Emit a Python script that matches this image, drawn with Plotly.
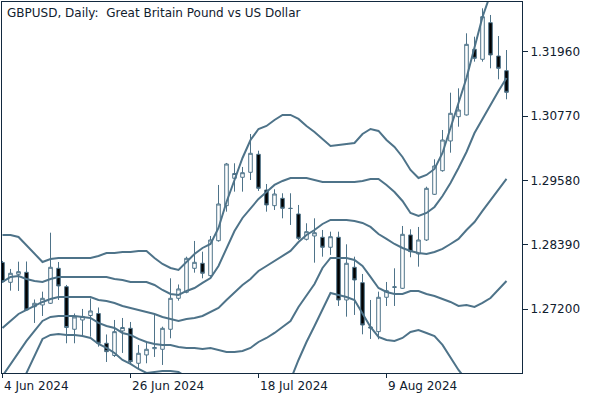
import plotly.graph_objects as go
import pandas as pd

# ---- data ----
dates = pd.bdate_range("2024-06-04", periods=64)

open_ = [1.28061, 1.27694, 1.27842, 1.27879, 1.27243, 1.27275, 1.27306, 1.27953, 1.27613, 1.26825,
         1.26997, 1.27080, 1.27117, 1.26566, 1.26340, 1.26794, 1.26843, 1.26196, 1.26350, 1.26466,
         1.26455, 1.26825, 1.27398, 1.27509, 1.27953, 1.28046, 1.27817, 1.28464, 1.29112, 1.29618,
         1.29637, 1.29729, 1.30062, 1.29402, 1.29112, 1.29248, 1.29063, 1.28958, 1.28490, 1.28551,
         1.28527, 1.28342, 1.28527, 1.27367, 1.27972, 1.27687, 1.26868, 1.26781, 1.27417, 1.27598,
         1.27583, 1.28570, 1.28218, 1.28477, 1.29322, 1.29759, 1.30309, 1.30758, 1.30790, 1.32005,
         1.31820, 1.32497, 1.31881, 1.31609]

high = [1.28089, 1.27941, 1.28076, 1.28079, 1.27376, 1.27521, 1.28612, 1.28070, 1.27645, 1.27117,
        1.27201, 1.27395, 1.27228, 1.26729, 1.26997, 1.27034, 1.26960, 1.26535, 1.26596, 1.27090,
        1.26873, 1.27768, 1.27654, 1.28168, 1.28459, 1.28261, 1.28551, 1.29495, 1.29902, 1.29896,
        1.29828, 1.30438, 1.30129, 1.29513, 1.29415, 1.29341, 1.29341, 1.29125, 1.28786, 1.28878,
        1.28662, 1.28631, 1.28631, 1.28397, 1.28168, 1.27848, 1.27367, 1.27521, 1.27700, 1.27953,
        1.28736, 1.28675, 1.28718, 1.29463, 1.29970, 1.30512, 1.31202, 1.31283, 1.32301, 1.32238,
        1.32763, 1.32640, 1.32251, 1.31992]

low = [1.27682, 1.27539, 1.27534, 1.27164, 1.26942, 1.27071, 1.27293, 1.27367, 1.26566, 1.26566,
       1.26683, 1.26688, 1.26503, 1.26220, 1.26313, 1.26387, 1.26165, 1.26103, 1.26196, 1.26313,
       1.26165, 1.26658, 1.27354, 1.27491, 1.27872, 1.27768, 1.27798, 1.28446, 1.29001, 1.29371,
       1.29371, 1.29587, 1.29384, 1.29001, 1.29032, 1.28878, 1.28755, 1.28477, 1.28468, 1.28057,
       1.28168, 1.28200, 1.27256, 1.27058, 1.27090, 1.26732, 1.26646, 1.26640, 1.27256, 1.27256,
       1.27571, 1.28157, 1.27983, 1.28459, 1.29310, 1.29741, 1.30092, 1.30573, 1.30780, 1.31776,
       1.31776, 1.31653, 1.31450, 1.31080]

close = [1.27706, 1.27861, 1.27891, 1.27182, 1.27306, 1.27398, 1.27972, 1.27626, 1.26858, 1.27053,
         1.27062, 1.27164, 1.26566, 1.26411, 1.26781, 1.26858, 1.26226, 1.26381, 1.26455, 1.26488,
         1.26843, 1.27398, 1.27571, 1.28138, 1.28064, 1.27861, 1.28477, 1.29143, 1.29883, 1.29707,
         1.29722, 1.30081, 1.29433, 1.29125, 1.29328, 1.29063, 1.29060, 1.28508, 1.28631, 1.28612,
         1.28342, 1.28538, 1.27367, 1.28046, 1.27737, 1.26904, 1.26849, 1.27417, 1.27539, 1.27611,
         1.28582, 1.28261, 1.28477, 1.29433, 1.29846, 1.30327, 1.30821, 1.30882, 1.32097, 1.31838,
         1.32608, 1.31900, 1.31653, 1.31209]

# Bollinger band lines (20 period, +/-1 and +/-2 deviations), read per bar
bb_upper2 = [1.28570, 1.28570, 1.28533, 1.28385, 1.28218, 1.28070, 1.28126, 1.28144, 1.28144, 1.28144,
             1.28144, 1.28144, 1.28181, 1.28237, 1.28237, 1.28255, 1.28255, 1.28274, 1.28274, 1.28144,
             1.28033, 1.27959, 1.27922, 1.28070, 1.28218, 1.28329, 1.28403, 1.28699, 1.29180, 1.29587,
             1.29994, 1.30327, 1.30530, 1.30586, 1.30697, 1.30790, 1.30790, 1.30716, 1.30586, 1.30475,
             1.30346, 1.30216, 1.30235, 1.30253, 1.30272, 1.30438, 1.30530, 1.30494, 1.30327, 1.30198,
             1.30013, 1.29772, 1.29624, 1.29680, 1.29791, 1.30087, 1.30530, 1.31012, 1.31474, 1.32048,
             1.32602, 1.33028, 1.33176, 1.33343]

bb_upper1 = [1.27700, 1.27793, 1.27811, 1.27756, 1.27719, 1.27700, 1.27756, 1.27793, 1.27793, 1.27793,
             1.27793, 1.27793, 1.27793, 1.27793, 1.27756, 1.27737, 1.27700, 1.27700, 1.27700, 1.27645,
             1.27552, 1.27478, 1.27460, 1.27534, 1.27589, 1.27682, 1.27774, 1.27996, 1.28329, 1.28644,
             1.28884, 1.29069, 1.29236, 1.29365, 1.29495, 1.29569, 1.29624, 1.29624, 1.29624, 1.29587,
             1.29550, 1.29550, 1.29550, 1.29550, 1.29550, 1.29569, 1.29606, 1.29606, 1.29495, 1.29365,
             1.29199, 1.28977, 1.28921, 1.28977, 1.29088, 1.29291, 1.29532, 1.29809, 1.30105, 1.30456,
             1.30716, 1.30993, 1.31234, 1.31474]

bb_middle = [1.26849, 1.26979, 1.27108, 1.27182, 1.27256, 1.27330, 1.27386, 1.27423, 1.27423, 1.27423,
             1.27423, 1.27423, 1.27367, 1.27349, 1.27312, 1.27256, 1.27219, 1.27182, 1.27145, 1.27108,
             1.27053, 1.27016, 1.26979, 1.27016, 1.27034, 1.27071, 1.27145, 1.27219, 1.27367, 1.27515,
             1.27645, 1.27756, 1.27904, 1.27996, 1.28089, 1.28181, 1.28274, 1.28440, 1.28570, 1.28662,
             1.28773, 1.28847, 1.28847, 1.28847, 1.28829, 1.28792, 1.28718, 1.28588, 1.28496, 1.28403,
             1.28329, 1.28274, 1.28237, 1.28218, 1.28255, 1.28312, 1.28403, 1.28496, 1.28662, 1.28810,
             1.29014, 1.29217, 1.29420, 1.29606]

bb_lower1 = [1.25961, 1.26183, 1.26405, 1.26609, 1.26794, 1.26979, 1.27053, 1.27071, 1.27071, 1.27071,
             1.27053, 1.27034, 1.26942, 1.26886, 1.26849, 1.26757, 1.26720, 1.26646, 1.26590, 1.26553,
             1.26535, 1.26535, 1.26498, 1.26479, 1.26479, 1.26461, 1.26479, 1.26442, 1.26405, 1.26405,
             1.26424, 1.26479, 1.26590, 1.26664, 1.26757, 1.26868, 1.26979, 1.27238, 1.27460, 1.27663,
             1.27959, 1.28144, 1.28144, 1.28144, 1.28107, 1.27996, 1.27793, 1.27589, 1.27515, 1.27478,
             1.27478, 1.27534, 1.27534, 1.27478, 1.27441, 1.27386, 1.27330, 1.27256, 1.27275, 1.27238,
             1.27312, 1.27404, 1.27571, 1.27719]

bb_lower2 = [1.25073, 1.25388, 1.25702, 1.26035, 1.26350, 1.26646, 1.26720, 1.26738, 1.26720, 1.26720,
             1.26701, 1.26664, 1.26553, 1.26479, 1.26387, 1.26257, 1.26183, 1.26090, 1.26017, 1.26035,
             1.26054, 1.26054, 1.26035, 1.25942, 1.25850, 1.25813, 1.25850, 1.25702, 1.25554, 1.25406,
             1.25277, 1.25221, 1.25295, 1.25425, 1.25517, 1.25647, 1.25887, 1.26257, 1.26590, 1.26886,
             1.27201, 1.27497, 1.27460, 1.27423, 1.27367, 1.27127, 1.26868, 1.26683, 1.26627, 1.26609,
             1.26664, 1.26775, 1.26812, 1.26757, 1.26701, 1.26535, 1.26313, 1.26072, 1.25887, 1.25610,
             1.25425, 1.25406, 1.25665, 1.25869]

y_tick_values = [1.27200, 1.28390, 1.29580, 1.30770, 1.31960]
x_tick_bars = [0, 16, 32, 48]
title_text = "GBPUSD, Daily:\u00a0\u00a0Great Britain Pound vs US Dollar"

# ---- figure ----
bars = list(range(len(close)))
x_tick_labels = [f"{dates[i].day} {dates[i]:%b %Y}" for i in x_tick_bars]

LINE = "#4e7389"
FRAME = "#12293f"
TEXT = "#10202e"
FONT = dict(family="DejaVu Sans", size=12, color=TEXT)

fig = go.Figure()
fig.add_trace(go.Candlestick(
    x=bars, open=open_, high=high, low=low, close=close,
    increasing=dict(fillcolor="white", line=dict(color=LINE, width=1)),
    decreasing=dict(fillcolor="black", line=dict(color=LINE, width=1)),
    whiskerwidth=0, hoverinfo="skip", showlegend=False,
))
for band in (bb_upper2, bb_upper1, bb_middle, bb_lower1, bb_lower2):
    fig.add_trace(go.Scatter(x=bars, y=band, mode="lines",
                             line=dict(color=LINE, width=2),
                             hoverinfo="skip", showlegend=False))

annotations = [dict(
    text=title_text, xref="paper", yref="paper", x=0, y=1,
    xanchor="left", yanchor="top", xshift=3, yshift=-2,
    showarrow=False, font=FONT,
)]
for b, lab in zip(x_tick_bars, x_tick_labels):
    annotations.append(dict(
        text=lab, xref="x", yref="paper", x=b, y=0,
        xanchor="left", yanchor="top", xshift=-1, yshift=-4,
        showarrow=False, font=FONT,
    ))

fig.update_layout(
    width=600, height=400,
    margin=dict(l=2, r=78, t=2, b=27, pad=0),
    paper_bgcolor="white", plot_bgcolor="white",
    font=FONT,
    boxgap=0.36,
    showlegend=False,
    xaxis=dict(
        range=[-0.0625, 64.9375], rangeslider=dict(visible=False),
        showgrid=False, zeroline=False,
        showline=True, mirror=True, linecolor=FRAME, linewidth=1,
        ticks="outside", ticklen=4, tickcolor=FRAME, tickwidth=1,
        tickvals=x_tick_bars, showticklabels=False,
    ),
    yaxis=dict(
        side="right", range=[1.26016, 1.32880],
        showgrid=False, zeroline=False,
        showline=True, mirror=True, linecolor=FRAME, linewidth=1,
        ticks="outside", ticklen=5, tickcolor=FRAME, tickwidth=1,
        tickvals=y_tick_values, tickformat=".5f",
        tickfont=FONT,
    ),
    annotations=annotations,
)

fig.write_html("out.html")
